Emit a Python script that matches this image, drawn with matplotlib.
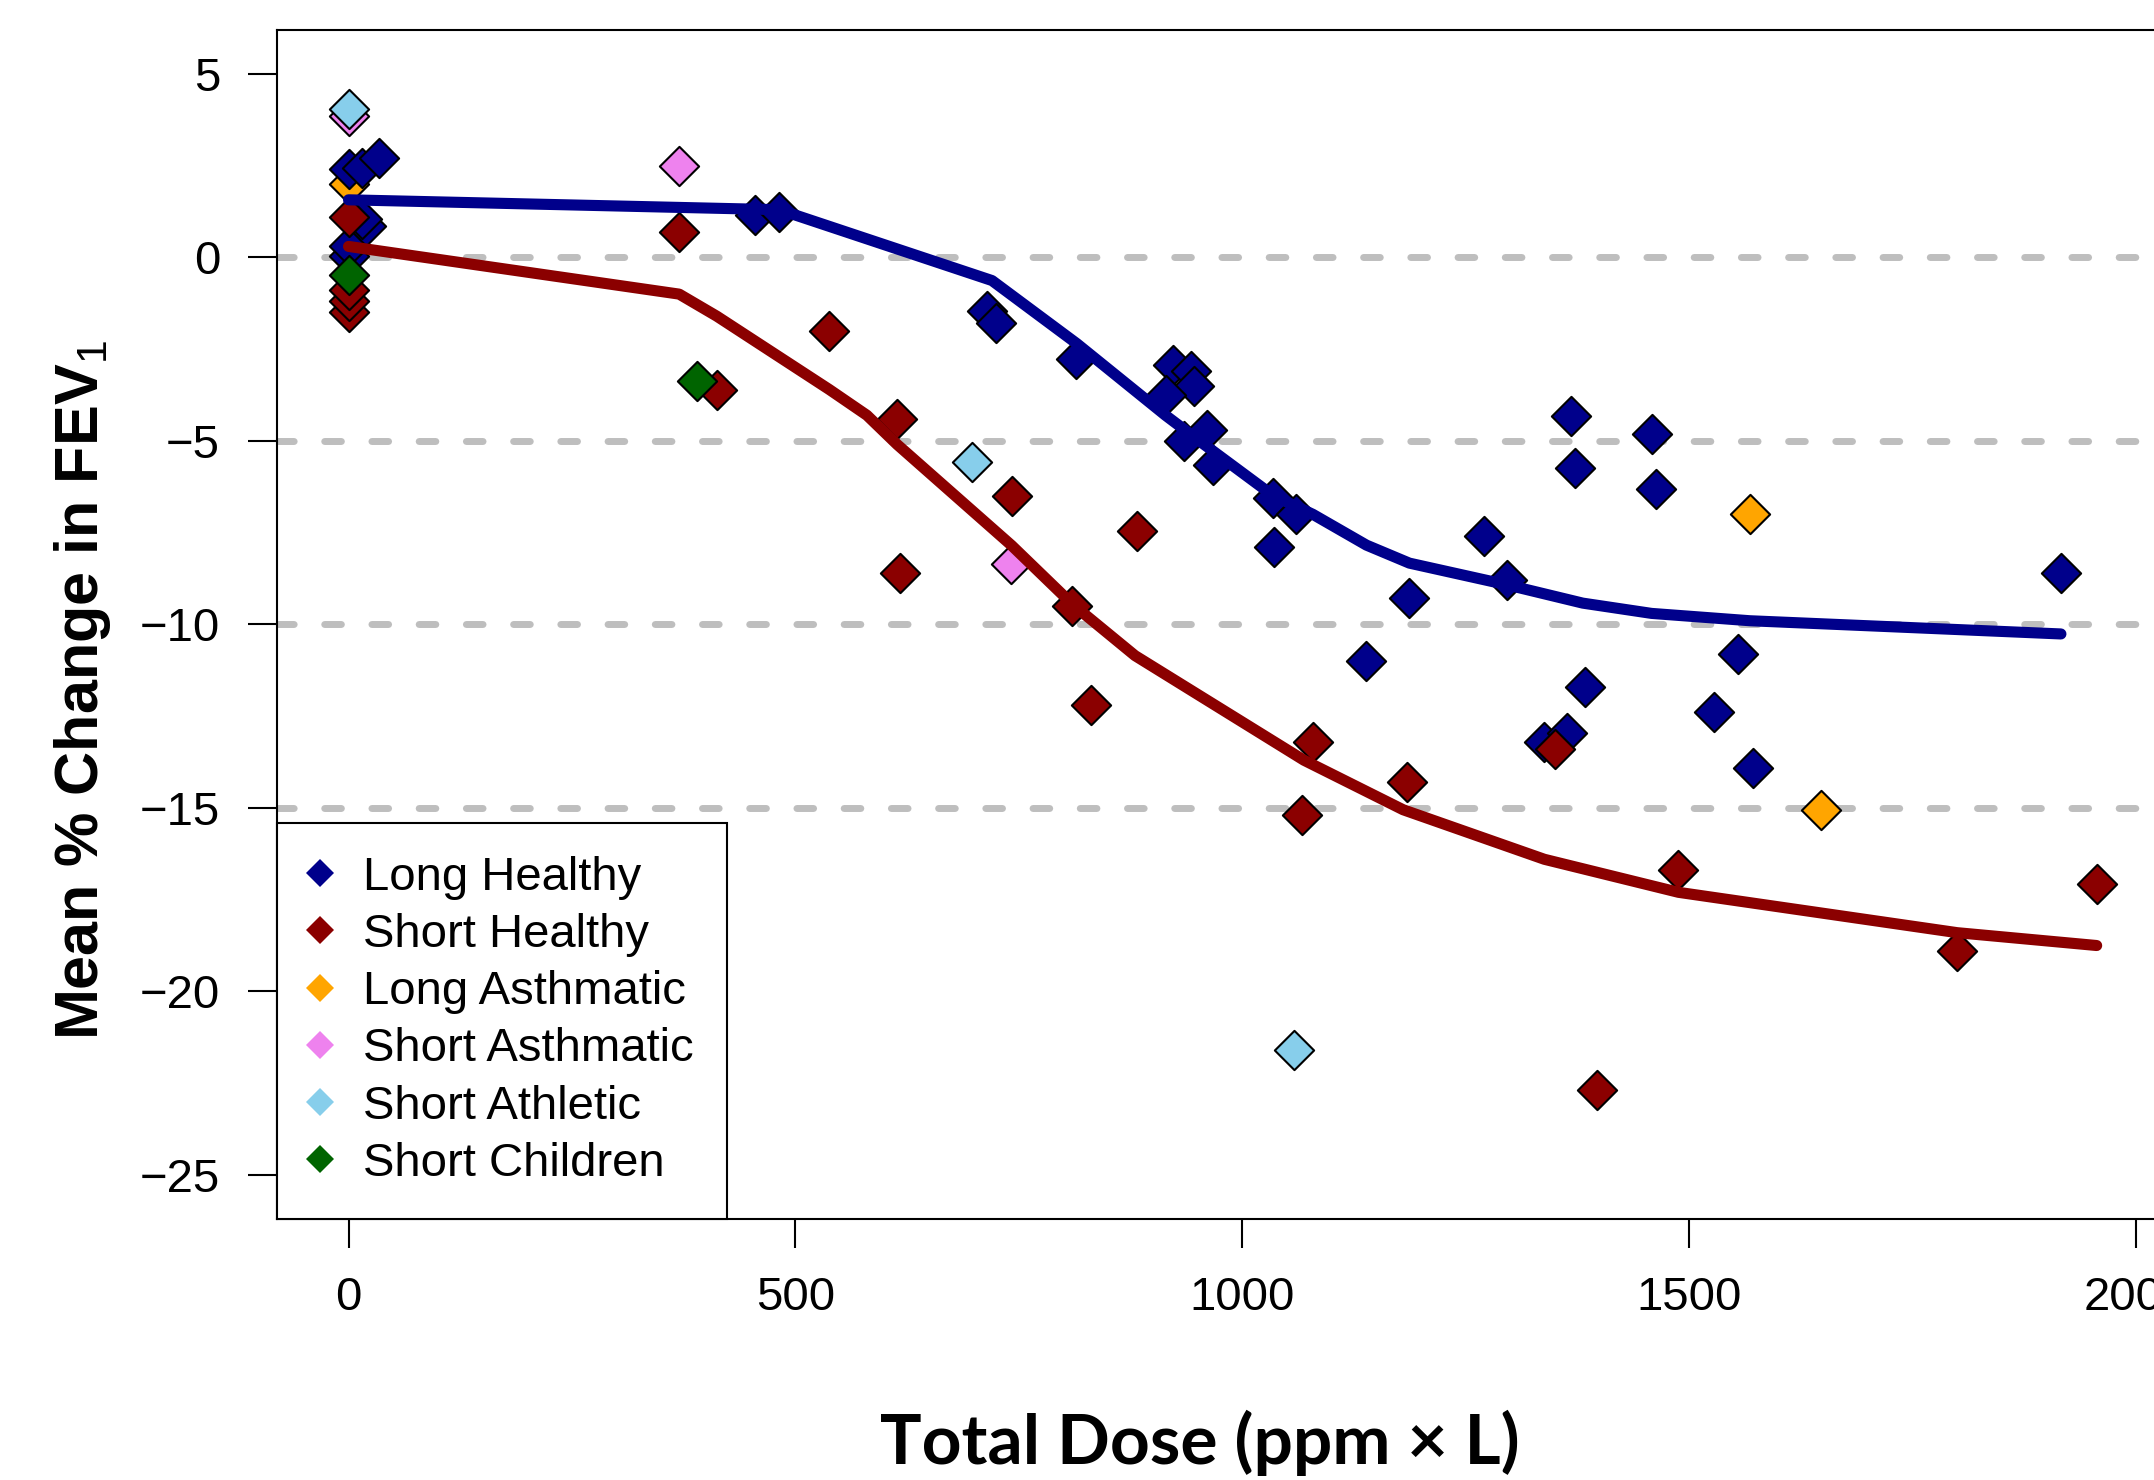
import matplotlib
matplotlib.use("Agg")
from matplotlib import pyplot as plt
from matplotlib.lines import Line2D

plt.rcParams['font.family'] = ['Liberation Sans', 'DejaVu Sans']
plt.rcParams['mathtext.fontset'] = 'custom'
plt.rcParams['mathtext.rm'] = 'Liberation Sans'
plt.rcParams['mathtext.bf'] = 'Liberation Sans:bold'

# data (total dose in ppm x L, mean % change in FEV1)
long_healthy_dose = [0, 0, 20, 15, 0, 15, 34, 455, 482, 714, 725, 814, 922, 943, 946, 915,
                     935, 960, 967, 1034, 1036, 1060, 1139, 1187, 1271, 1296, 1338, 1363,
                     1368, 1372, 1383, 1458, 1463, 1528, 1555, 1572, 1916]
long_healthy_fev = [0.05, 0.3, 0.85, 1.05, 2.4, 2.45, 2.7, 1.16, 1.23, -1.46, -1.8, -2.77,
                    -2.94, -3.1, -3.5, -3.75, -5.0, -4.7, -5.66, -6.56, -7.9, -7.0, -11.0,
                    -9.28, -7.6, -8.8, -13.2, -12.95, -4.33, -5.74, -11.7, -4.8, -6.3,
                    -12.4, -10.8, -13.9, -8.6]

short_healthy_dose = [0, 0, 0, 0, 370, 412, 538, 614, 617, 742, 809, 831, 882, 1067, 1079,
                      1184, 1350, 1397, 1488, 1800, 1956]
short_healthy_fev = [-1.5, -1.2, -0.9, 1.1, 0.68, -3.6, -2.0, -4.4, -8.6, -6.5, -9.5, -12.2,
                     -7.46, -15.2, -13.2, -14.3, -13.4, -22.7, -16.7, -18.9, -17.06]

long_asthmatic_dose = [0, 1568, 1647]
long_asthmatic_fev = [2.0, -7.0, -15.05]

short_asthmatic_dose = [0, 370, 741]
short_asthmatic_fev = [3.85, 2.5, -8.35]

short_athletic_dose = [0, 698, 1058]
short_athletic_fev = [4.05, -5.57, -21.6]

short_children_dose = [0, 390]
short_children_fev = [-0.49, -3.37]

# fitted curves
long_fit_dose = [0, 482, 720, 815, 914, 952, 1034, 1079, 1139, 1187, 1296, 1381, 1458, 1568, 1916]
long_fit_fev = [1.57, 1.3, -0.63, -2.35, -4.3, -5.0, -6.48, -7.0, -7.84, -8.33, -8.92, -9.42,
                -9.7, -9.9, -10.26]
short_fit_dose = [0, 370, 412, 538, 580, 614, 742, 810, 880, 1069, 1180, 1338, 1488, 1800, 1956]
short_fit_fev = [0.3, -1.0, -1.6, -3.6, -4.3, -5.1, -7.85, -9.45, -10.85, -13.7, -15.05, -16.4,
                 -17.3, -18.4, -18.75]

groups = ['Long Healthy', 'Short Healthy', 'Long Asthmatic', 'Short Asthmatic',
          'Short Athletic', 'Short Children']
colors = ['#00008B', '#8B0000', '#FFA500', '#EE82EE', '#87CEEB', '#006400']
xticks = [0, 500, 1000, 1500, 2000]
yticks = [5, 0, -5, -10, -15, -20, -25]
ref_lines = [0, -5, -10, -15]

fig = plt.figure(figsize=(21.54, 14.8), dpi=100)
ax = fig.add_axes([0.1286, 0.1764, 0.8784, 0.8034])
ax.set_xlim(-80, 2037)
ax.set_ylim(-26.2, 6.2)

for v in ref_lines:
    ax.axhline(v, color='#BEBEBE', lw=5, ls=(0, (2.4, 4.4)), dash_capstyle='round', zorder=1)

series = {
    'Long Healthy': (long_healthy_dose, long_healthy_fev),
    'Short Healthy': (short_healthy_dose, short_healthy_fev),
    'Long Asthmatic': (long_asthmatic_dose, long_asthmatic_fev),
    'Short Asthmatic': (short_asthmatic_dose, short_asthmatic_fev),
    'Short Athletic': (short_athletic_dose, short_athletic_fev),
    'Short Children': (short_children_dose, short_children_fev),
}
draw_order = ['Long Asthmatic', 'Long Healthy', 'Short Healthy', 'Short Asthmatic',
              'Short Athletic', 'Short Children']
for g in draw_order:
    x, y = series[g]
    ax.scatter(x, y, marker='D', s=20 ** 2, c=colors[groups.index(g)],
               edgecolors='black', linewidths=1.5, zorder=3)

ax.plot(long_fit_dose, long_fit_fev, color=colors[0], lw=8, solid_capstyle='round',
        solid_joinstyle='round', zorder=4)
ax.plot(short_fit_dose, short_fit_fev, color=colors[1], lw=8, solid_capstyle='round',
        solid_joinstyle='round', zorder=4)

ax.set_xticks(xticks)
ax.set_yticks(yticks)
ax.set_yticklabels([str(t).replace('-', '\u2212') for t in yticks])
ax.tick_params(direction='out', length=21, width=1.5, pad=20, labelsize=34)
for s in ax.spines.values():
    s.set_linewidth(1.5)

handles = [Line2D([], [], marker='D', color=c, linestyle='none', markersize=14,
                  markeredgewidth=0) for c in colors]
leg = ax.legend(handles, groups, loc='lower left', bbox_to_anchor=(0, 0), borderaxespad=0,
                fontsize=34, frameon=True, fancybox=False, framealpha=1, edgecolor='black',
                borderpad=0.7, labelspacing=0.28, handlelength=0.4, handletextpad=0.72)
leg.get_frame().set_linewidth(1.5)
leg.set_zorder(6)

fig.text(0.0385, 0.534, 'Mean % Change in FEV$_\\mathrm{1}$', rotation=90, fontsize=44,
         fontweight='bold', ha='center', va='center')
fig.text(0.557, 1 - 1443 / 1480, 'Total Dose (ppm \u00d7 L)', fontsize=50, fontweight='bold',
         family=['Lato', 'DejaVu Sans'], ha='center', va='center')

fig.savefig('out.png', dpi=100)
